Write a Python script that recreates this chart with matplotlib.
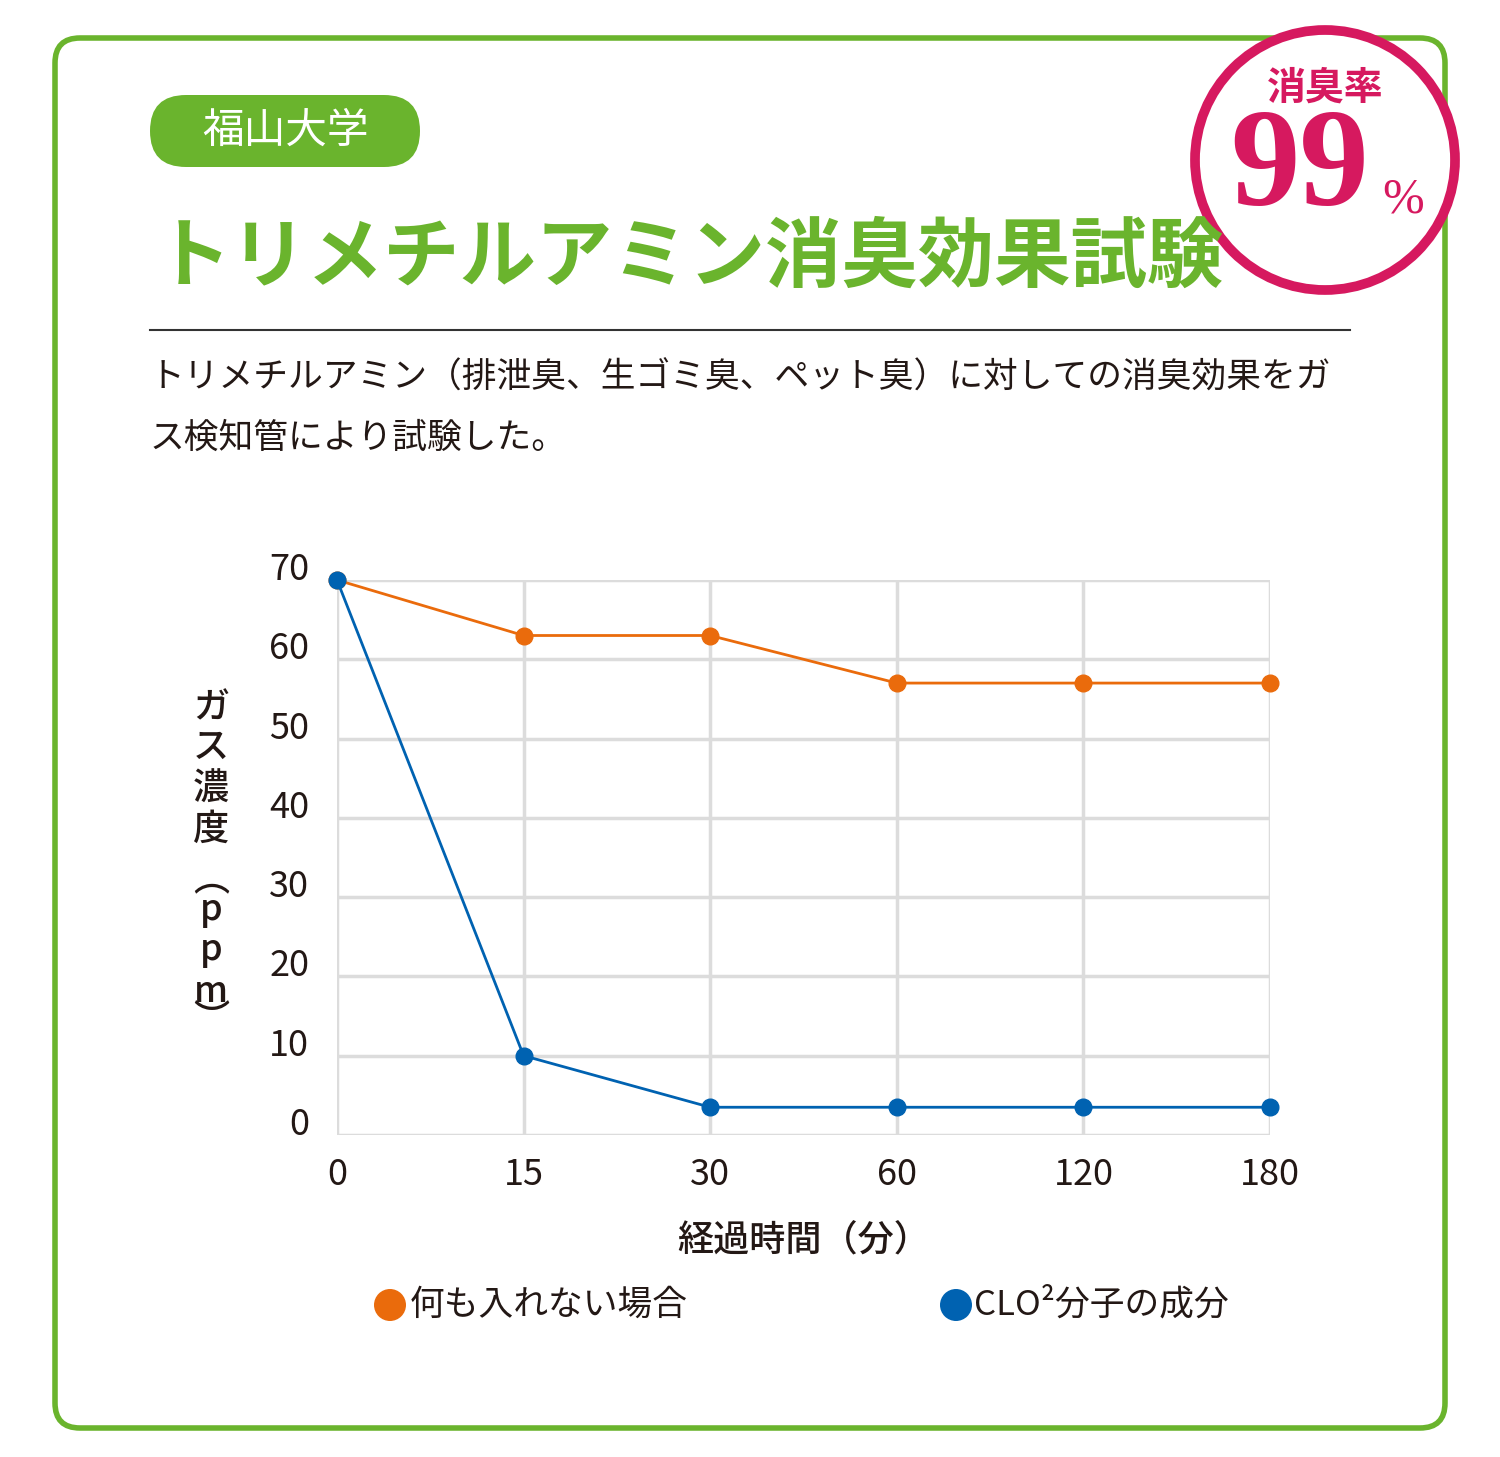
import matplotlib
matplotlib.use("Agg")
import matplotlib.pyplot as plt
from matplotlib.patches import FancyBboxPatch, Circle

plt.rcParams["font.family"] = "Noto Sans CJK JP"

categories = ["0", "15", "30", "60", "120", "180"]
no_treatment = [70, 63, 63, 57, 57, 57]
clo2 = [70, 10, 3.5, 3.5, 3.5, 3.5]
yticks = [0, 10, 20, 30, 40, 50, 60, 70]

W, H = 1500, 1457
fig = plt.figure(figsize=(15, 14.57), dpi=100)
bg = fig.add_axes([0, 0, 1, 1])
bg.set_xlim(0, W); bg.set_ylim(H, 0); bg.axis("off")

green = "#6ab42d"
mag = "#d6195f"
dark = "#231815"
bg.add_patch(FancyBboxPatch((55, 38), 1390, 1390, boxstyle="round,pad=0,rounding_size=25",
                            fc="white", ec=green, lw=4))
bg.add_patch(FancyBboxPatch((150, 95), 270, 72, boxstyle="round,pad=0,rounding_size=36",
                            fc=green, ec="none"))
bg.text(285, 131, "福山大学", color="white", fontsize=30, ha="center", va="center")
bg.text(155, 258, "トリメチルアミン消臭効果試験", color=green, fontsize=55,
        fontweight="bold", ha="left", va="center")
bg.plot([150, 1350], [330, 330], color="#333333", lw=1.5)
bg.text(150, 378, "トリメチルアミン（排泄臭、生ゴミ臭、ペット臭）に対しての消臭効果をガ",
        fontsize=25, color=dark, ha="left", va="center")
bg.text(150, 438, "ス検知管により試験した。", fontsize=25, color=dark, ha="left", va="center")

bg.add_patch(Circle((1325, 160), 130, fc="white", ec=mag, lw=7))
bg.text(1325, 88, "消臭率", color=mag, fontsize=28, fontweight="bold", ha="center", va="center")
bg.text(1300, 172, "99", color=mag, fontsize=100, fontweight="bold", ha="center", va="center",
        family="Liberation Serif")
bg.text(1403, 200, "%", color=mag, fontsize=36, ha="center", va="center", family="Liberation Serif")

ax = fig.add_axes([337 / W, 1 - 1135 / H, 933 / W, 555 / H])
x = list(range(len(categories)))
ax.plot(x, no_treatment, color="#ea6b0c", lw=2, marker="o", ms=12, zorder=3, clip_on=False)
ax.plot(x, clo2, color="#0062b1", lw=2, marker="o", ms=12, zorder=3, clip_on=False)
ax.set_xlim(0, 5); ax.set_ylim(0, 70)
ax.set_xticks(x); ax.set_xticklabels(categories)
ax.set_yticks(yticks)
ax.grid(True, color="#dcdcdc", lw=2.5)
for s in ax.spines.values():
    s.set_visible(False)
ax.tick_params(length=0, labelsize=26, labelcolor=dark, pad=16)
ax.tick_params(axis="y", pad=20)
for lab in ax.get_yticklabels():
    lab.set_va("baseline")
ax.set_xlabel("経過時間（分）", fontsize=26, fontweight="medium", color=dark, labelpad=22)

ylab_chars = ["ガ", "ス", "濃", "度", "︵", "p", "p", "m", "︶"]
ylab_pos = [708, 748, 790, 830, 880, 910, 950, 992, 1020]
for ch, yy in zip(ylab_chars, ylab_pos):
    bg.text(211, yy, ch, fontsize=26, fontweight="medium", color=dark, ha="center", va="center")

bg.add_patch(Circle((390, 1305), 16, fc="#ea6b0c", ec="none"))
bg.text(410, 1305, "何も入れない場合", fontsize=25, color=dark, ha="left", va="center")
bg.add_patch(Circle((956, 1305), 16, fc="#0062b1", ec="none"))
bg.text(974, 1305, "CLO²分子の成分", fontsize=25, color=dark, ha="left", va="center")

fig.savefig("out.png", dpi=100)
